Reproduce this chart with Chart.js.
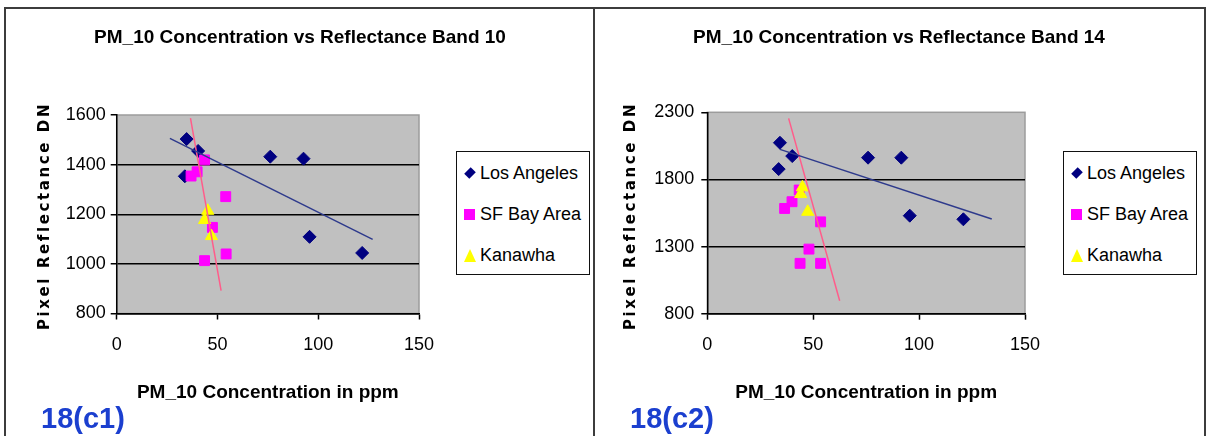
<!DOCTYPE html>
<html>
<head>
<meta charset="utf-8">
<title>PM_10 Concentration vs Reflectance</title>
<script src="https://cdn.jsdelivr.net/npm/chart.js@4.4.0/dist/chart.umd.min.js"></script>
<style>
  body { margin: 0; width: 1210px; height: 436px; overflow: hidden; background: #fff; position: relative;
         font-family: "Liberation Sans", Arial, sans-serif; }
  .frame { position: absolute; left: 4px; top: 7px; width: 1198px; height: 440px;
           border: 2px solid #3c3c3c; border-bottom: none; }
  .divider { position: absolute; left: 593px; top: 7px; width: 2px; height: 430px; background: #3c3c3c; }
  .wrap { position: absolute; top: 9px; }
  .ttl { position: absolute; top: 26px; width: 600px; text-align: center; font-weight: bold; font-size: 19px;
         line-height: 22px; color: #000; white-space: nowrap; }
  .legend { position: absolute; top: 151px; width: 132px; height: 122px; border: 1.5px solid #111; background: #fff; }
  .legend .row { position: absolute; left: 0; font-size: 18px; line-height: 20px; color: #000; white-space: nowrap; }
  .legend .row span.txt { position: absolute; left: 23px; top: 0; }
  .mk { position: absolute; }
  .mk.dia { left: 9px; top: 6px; width: 8px; height: 8px; background: #000080; transform: rotate(45deg) scale(0.9, 1.15); }
  .mk.sq { left: 7px; top: 5px; width: 11px; height: 11px; background: #ff00ff; }
  .mk.tri { left: 7px; top: 4px; width: 0; height: 0; border-left: 6px solid transparent;
            border-right: 6px solid transparent; border-bottom: 13px solid #ffff00; }
  .fig { position: absolute; top: 402px; font-weight: bold; font-size: 29px; color: #1b3fcf; line-height: 32px; }
</style>
</head>
<body>
<div class="frame"></div>
<div class="divider"></div>

<div class="wrap" style="left:6px"><canvas id="c1" width="588" height="427"></canvas></div>
<div class="wrap" style="left:595px"><canvas id="c2" width="608" height="427"></canvas></div>

<div class="ttl" id="t1" style="left:0px"></div>
<div class="ttl" id="t2" style="left:599px"></div>

<div class="legend" style="left:456px">
  <div class="row" style="top:11px"><div class="mk dia"></div><span class="txt">Los Angeles</span></div>
  <div class="row" style="top:52px"><div class="mk sq"></div><span class="txt">SF Bay Area</span></div>
  <div class="row" style="top:93px"><div class="mk tri"></div><span class="txt">Kanawha</span></div>
</div>
<div class="legend" style="left:1063px">
  <div class="row" style="top:11px"><div class="mk dia"></div><span class="txt">Los Angeles</span></div>
  <div class="row" style="top:52px"><div class="mk sq"></div><span class="txt">SF Bay Area</span></div>
  <div class="row" style="top:93px"><div class="mk tri"></div><span class="txt">Kanawha</span></div>
</div>

<div class="fig" style="left:41px">18(c1)</div>
<div class="fig" style="left:630px">18(c2)</div>

<script>
/* datos */

// Band 10
const la1X = [34.7, 40.4, 76.2, 92.7, 33.8, 95.7, 121.8];
const la1Y = [1503, 1455, 1432, 1424, 1353, 1109, 1044];
const sf1X = [43.6, 39.9, 36.9, 54.1, 47.5, 54.3, 43.6];
const sf1Y = [1419, 1371, 1354, 1271, 1147, 1040, 1013];
const kw1X = [45.2, 43.6, 47.0];
const kw1Y = [1214, 1177, 1112];
const laTrend1X = [26.4, 127];
const laTrend1Y = [1506, 1099];
const sfTrend1X = [36.6, 51.8];
const sfTrend1Y = [1587, 892];

// Band 14
const la2X = [34.3, 40.1, 75.9, 91.6, 33.7, 95.6, 120.9];
const la2Y = [2073, 1974, 1962, 1962, 1877, 1530, 1503];
const sf2X = [43.4, 40.0, 36.5, 53.5, 48.0, 43.8, 53.5];
const sf2Y = [1721, 1634, 1584, 1484, 1281, 1175, 1175];
const kw2X = [44.9, 44.1, 47.4];
const kw2Y = [1741, 1691, 1559];
const laTrend2X = [34.3, 134.3];
const laTrend2Y = [2024, 1505];
const sfTrend2X = [38.4, 62.5];
const sfTrend2Y = [2255, 896];

const xTicks = [0, 50, 100, 150];
const yTicks1 = [800, 1000, 1200, 1400, 1600];
const yTicks2 = [800, 1300, 1800, 2300];

const titles = ["PM_10 Concentration vs Reflectance Band 10", "PM_10 Concentration vs Reflectance Band 14"];
const xTitle = "PM_10 Concentration in ppm";
const yTitle = "Pixel Reflectance DN";

document.getElementById('t1').textContent = titles[0];
document.getElementById('t2').textContent = titles[1];

function pts(xs, ys) {
    return xs.map(function(x, i){ return {x: x, y: ys[i]}; });
}

/* fondo gris del area */
const plotBg = {
    id: 'plotBg',
    beforeDraw(chart) {
        const a = chart.chartArea;
        const ctx = chart.ctx;
        ctx.save();
        ctx.fillStyle = '#c0c0c0';
        ctx.fillRect(a.left, a.top, a.right - a.left, a.bottom - a.top);
        ctx.strokeStyle = '#9c9c9c';
        ctx.lineWidth = 1.5;
        ctx.strokeRect(a.left, a.top, a.right - a.left, a.bottom - a.top);
        ctx.restore();
    }
};

/* titulo del eje y con espaciado entre letras */
const yTitlePlugin = {
    id: 'yTitleSpaced',
    afterDraw(chart, args, opts) {
        const ctx = chart.ctx;
        ctx.save();
        ctx.translate(opts.x, opts.y);
        ctx.rotate(-Math.PI / 2);
        ctx.font = 'bold 15px "DejaVu Sans"';
        ctx.letterSpacing = opts.spacing + 'px';
        ctx.fillStyle = '#000';
        ctx.textAlign = 'center';
        ctx.textBaseline = 'middle';
        ctx.fillText(yTitle, 0, 0);
        ctx.restore();
    }
};

function makeChart(id, cfg) {
    const yTicks = cfg.yTicks;
    const yMax = yTicks[yTicks.length - 1];
    return new Chart(document.getElementById(id), {
        type: 'scatter',
        data: {
            datasets: [
                { label: 'LA trend', data: pts(cfg.laT[0], cfg.laT[1]), showLine: true, pointRadius: 0,
                  borderColor: '#2e3a8c', borderWidth: 1.5, order: 0 },
                { label: 'SF trend', data: pts(cfg.sfT[0], cfg.sfT[1]), showLine: true, pointRadius: 0,
                  borderColor: '#ff5c8a', borderWidth: 1.5, order: 0 },
                { label: 'Los Angeles', data: pts(cfg.la[0], cfg.la[1]), pointStyle: 'rectRot', pointRadius: 6.5,
                  backgroundColor: '#000080', borderColor: '#000080', order: 3 },
                { label: 'SF Bay Area', data: pts(cfg.sf[0], cfg.sf[1]), pointStyle: 'rect', pointRadius: 7,
                  backgroundColor: '#ff00ff', borderColor: '#ff00ff', order: 2 },
                { label: 'Kanawha', data: pts(cfg.kw[0], cfg.kw[1]), pointStyle: 'triangle', pointRadius: 7,
                  backgroundColor: '#ffff00', borderColor: '#ffff00', order: 1 }
            ]
        },
        options: {
            responsive: false,
            animation: false,
            events: [],
            layout: { padding: { left: 0, top: cfg.padTop, bottom: 0, right: cfg.padRight } },
            plugins: {
                legend: { display: false },
                tooltip: { enabled: false },
                title: { display: false },
                yTitleSpaced: { x: cfg.yTitleX, y: cfg.yTitleY, spacing: 2.6 }
            },
            scales: {
                x: {
                    type: 'linear', min: 0, max: 150,
                    afterBuildTicks: function(s){ s.ticks = xTicks.map(function(v){ return {value: v}; }); },
                    afterFit: function(s){ s.height = cfg.xHeight; },
                    ticks: { color: '#000', padding: 15, font: { family: 'Liberation Sans', size: 18 },
                             callback: function(v){ return String(v); } },
                    grid: { drawOnChartArea: false, drawTicks: true, tickLength: 6, tickColor: '#000', tickWidth: 1.5 },
                    border: { color: '#000', width: 1.5 },
                    title: { display: true, text: xTitle, color: '#000',
                             font: { family: 'Liberation Sans', size: 19, weight: 'bold' },
                             padding: { top: 0, bottom: 31.6 } }
                },
                y: {
                    type: 'linear', min: yTicks[0], max: yMax,
                    afterBuildTicks: function(s){ s.ticks = yTicks.map(function(v){ return {value: v}; }); },
                    afterFit: function(s){ s.width = cfg.yWidth; },
                    ticks: { color: '#000', padding: cfg.yPad, font: { family: 'Liberation Sans', size: 18 },
                             callback: function(v){ return String(v); } },
                    grid: {
                        color: function(c){ return (c.tick && c.tick.value === yMax) ? 'rgba(0,0,0,0)' : '#000'; },
                        lineWidth: 1.5, tickLength: 6, tickColor: '#000', tickWidth: 1.5
                    },
                    border: { color: '#000', width: 1.5 },
                    title: { display: false }
                }
            }
        },
        plugins: [plotBg, yTitlePlugin]
    });
}

makeChart('c1', {
    yTicks: yTicks1,
    la: [la1X, la1Y], sf: [sf1X, sf1Y], kw: [kw1X, kw1Y],
    laT: [laTrend1X, laTrend1Y], sfT: [sfTrend1X, sfTrend1Y],
    padTop: 106, padRight: 175, xHeight: 122.5, yWidth: 110.7, yPad: 5,
    yTitleX: 39, yTitleY: 207
});

makeChart('c2', {
    yTicks: yTicks2,
    la: [la2X, la2Y], sf: [sf2X, sf2Y], kw: [kw2X, kw2Y],
    laT: [laTrend2X, laTrend2Y], sfT: [sfTrend2X, sfTrend2Y],
    padTop: 103.3, padRight: 178, xHeight: 122.3, yWidth: 112.3, yPad: 7,
    yTitleX: 36, yTitleY: 207
});
</script>
</body>
</html>
